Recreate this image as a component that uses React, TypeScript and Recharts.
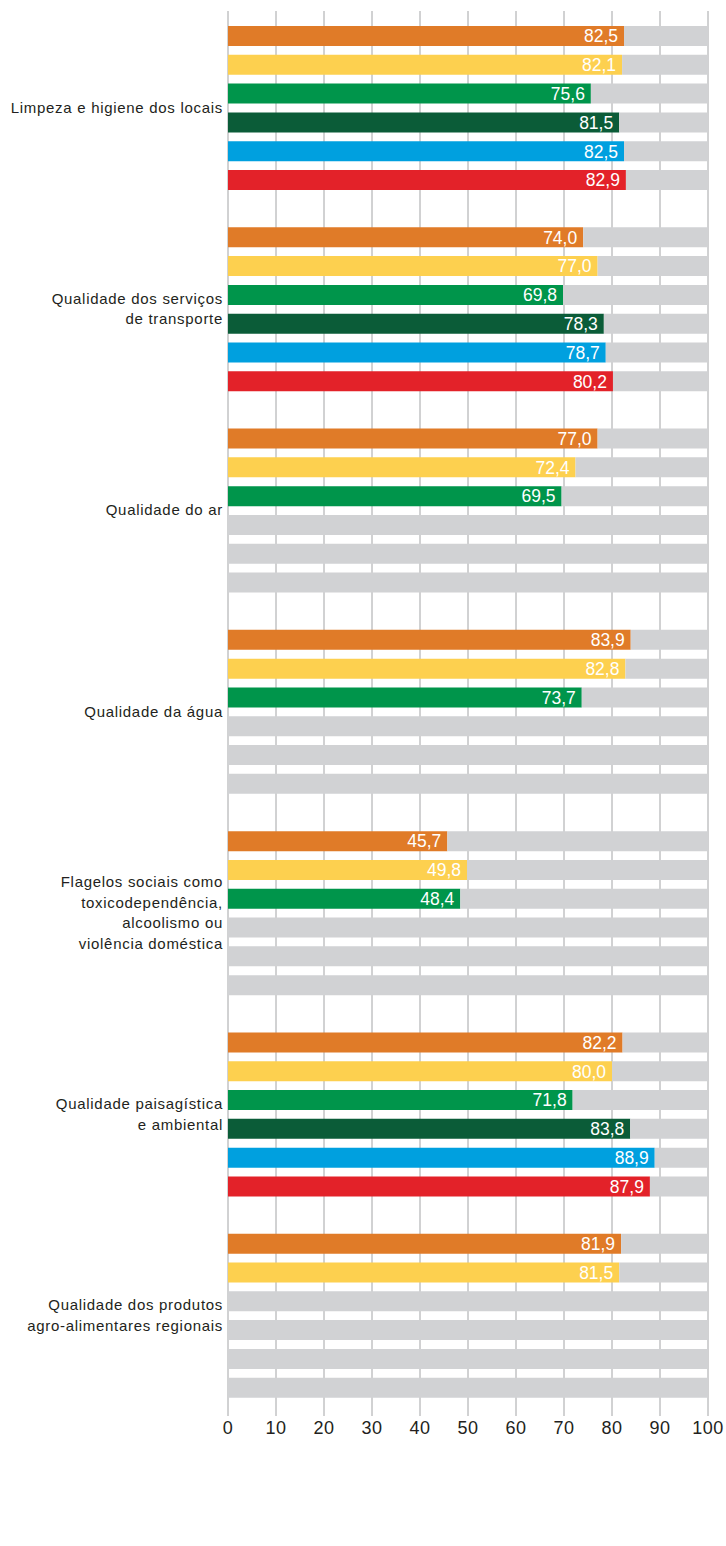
import React from 'react';
import { BarChart, Bar, XAxis, YAxis, CartesianGrid, LabelList } from 'recharts';

const categories = [
  'Limpeza e higiene dos locais',
  'Qualidade dos serviços\nde transporte',
  'Qualidade do ar',
  'Qualidade da água',
  'Flagelos sociais como\ntoxicodependência,\nalcoolismo ou\nviolência doméstica',
  'Qualidade paisagística\ne ambiental',
  'Qualidade dos produtos\nagro-alimentares regionais',
];

// one list per coloured series, top to bottom inside each group
const laranja = [82.5, 74.0, 77.0, 83.9, 45.7, 82.2, 81.9];
const amarelo = [82.1, 77.0, 72.4, 82.8, 49.8, 80.0, 81.5];
const verde = [75.6, 69.8, 69.5, 73.7, 48.4, 71.8, null];
const verdeEscuro = [81.5, 78.3, null, null, null, 83.8, null];
const azul = [82.5, 78.7, null, null, null, 88.9, null];
const vermelho = [82.9, 80.2, null, null, null, 87.9, null];

const xTicks = [0, 10, 20, 30, 40, 50, 60, 70, 80, 90, 100];
const ESCALA_MAX = 100;

const series = [
  { key: 'laranja', values: laranja, color: '#e07b28' },
  { key: 'amarelo', values: amarelo, color: '#fdd04f' },
  { key: 'verde', values: verde, color: '#00954b' },
  { key: 'verdeEscuro', values: verdeEscuro, color: '#0b5c38' },
  { key: 'azul', values: azul, color: '#00a0df' },
  { key: 'vermelho', values: vermelho, color: '#e32229' },
];

// each series is stacked with its grey remainder up to 100, so empty rows keep their track
const data = categories.map((name, i) => {
  const row: Record<string, any> = { name };
  series.forEach((s) => {
    const v = s.values[i];
    row[s.key] = v ?? 0;
    row[s.key + 'Resto'] = ESCALA_MAX - (v ?? 0);
    row[s.key + 'Rotulo'] = v;
  });
  return row;
});

const FONT = '"Liberation Sans", Arial, sans-serif';

const CategoryTick = (props: any) => {
  const { x, y, payload } = props;
  const lines = String(payload.value).split('\n');
  const lh = 20.5;
  const start = -((lines.length - 1) * lh) / 2;
  return (
    <text
      x={x - 5}
      y={y}
      textAnchor="end"
      fill="#231f20"
      fontSize={15}
      fontFamily={FONT}
      letterSpacing={0.7}
    >
      {lines.map((line, i) => (
        <tspan key={i} x={x - 5} y={y + start + i * lh} dy="0.35em">
          {line}
        </tspan>
      ))}
    </text>
  );
};

const ValueTick = (props: any) => {
  const { x, y, payload } = props;
  return (
    <text
      x={x}
      y={y + 12}
      dy="0.35em"
      textAnchor="middle"
      fill="#231f20"
      fontSize={18}
      fontFamily={FONT}
      letterSpacing={0.5}
    >
      {payload.value}
    </text>
  );
};

const ValueLabel = (props: any) => {
  const { value } = props;
  if (value == null) return null;
  const vb = props.viewBox || {};
  const x = props.x ?? vb.x;
  const y = props.y ?? vb.y;
  const width = props.width ?? vb.width;
  const height = props.height ?? vb.height;
  return (
    <text
      x={x + width - 6}
      y={y + height / 2}
      dy="0.36em"
      textAnchor="end"
      fill="#ffffff"
      fontSize={17.5}
      fontFamily={FONT}
    >
      {Number(value).toFixed(1).replace('.', ',')}
    </text>
  );
};

export default function App() {
  return (
    <div style={{ position: 'absolute', left: 0, top: 0, background: '#fff' }}>
      <BarChart
        width={726}
        height={1546}
        data={data}
        layout="vertical"
        margin={{ top: 7, right: 18, bottom: 100, left: 0 }}
        barSize={20}
        barGap={8.8}
      >
        <CartesianGrid horizontal={false} stroke="#a3a4a6" y={11} height={1405} />
        <XAxis
          type="number"
          domain={[0, 100]}
          ticks={xTicks}
          interval={0}
          axisLine={false}
          tickLine={false}
          tickSize={0}
          tickMargin={0}
          height={30}
          tick={<ValueTick />}
        />
        <YAxis
          type="category"
          dataKey="name"
          width={228}
          axisLine={false}
          tickLine={false}
          tickSize={0}
          tickMargin={0}
          interval={0}
          tick={<CategoryTick />}
        />
        {series.flatMap((s) => [
          <Bar
            key={s.key}
            dataKey={s.key}
            stackId={s.key}
            fill={s.color}
            isAnimationActive={false}
          >
            <LabelList dataKey={s.key + 'Rotulo'} content={<ValueLabel />} />
          </Bar>,
          <Bar
            key={s.key + 'Resto'}
            dataKey={s.key + 'Resto'}
            stackId={s.key}
            fill="#d1d2d4"
            isAnimationActive={false}
          />,
        ])}
      </BarChart>
    </div>
  );
}
